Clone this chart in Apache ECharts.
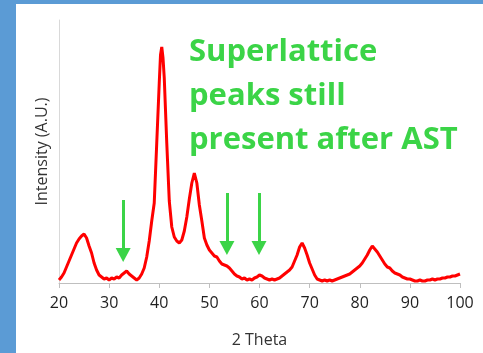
<!DOCTYPE html>
<html>
<head>
<meta charset="utf-8">
<script src="https://cdn.jsdelivr.net/npm/echarts@6/dist/echarts.min.js"></script>
<style>
  html, body { margin: 0; padding: 0; background: #fff; }
  #chart { width: 483px; height: 353px; }
</style>
</head>
<body>
<div id="chart"></div>
<script>
// 2 Theta positions (deg) and intensity
const twoTheta = [
  20, 20.5, 21, 21.5, 22, 22.5, 23, 23.5, 24, 24.5, 25, 25.5, 26, 26.5, 27, 27.5,
  28, 28.5, 29, 29.5, 30, 30.5, 31, 31.5, 32, 32.5, 33, 33.5, 34, 34.5, 35, 35.5,
  36, 36.5, 37, 37.5, 38, 38.5, 39, 39.5, 40, 40.25, 40.5, 40.75, 41, 41.5, 42, 42.5,
  43, 43.5, 44, 44.5, 45, 45.5, 46, 46.5, 47, 47.5, 48, 48.5, 49, 49.5, 50, 50.5,
  51, 51.5, 52, 52.5, 53, 53.5, 54, 54.5, 55, 55.5, 56, 56.5, 57, 57.5, 58, 58.5,
  59, 59.5, 60, 60.5, 61, 61.5, 62, 62.5, 63, 63.5, 64, 64.5, 65, 65.5, 66, 66.5,
  67, 67.5, 68, 68.5, 69, 69.5, 70, 70.5, 71, 71.5, 72, 72.5, 73, 73.5, 74, 74.5,
  75, 75.5, 76, 76.5, 77, 77.5, 78, 78.5, 79, 79.5, 80, 80.5, 81, 81.5, 82, 82.5,
  83, 83.5, 84, 84.5, 85, 85.5, 86, 86.5, 87, 87.5, 88, 88.5, 89, 89.5, 90, 90.5,
  91, 91.5, 92, 92.5, 93, 93.5, 94, 94.5, 95, 95.5, 96, 96.5, 97, 97.5, 98, 98.5,
  99, 99.5, 100
];
const intensity = [
  3, 6, 10, 16, 22, 28, 34, 40, 44, 47, 49, 45, 37, 30, 20, 13,
  8, 6, 4, 5, 3, 5, 4, 6, 5, 8, 10, 12, 9, 7, 5, 3,
  5, 9, 15, 26, 42, 62, 80, 140, 200, 228, 236, 225, 205, 140, 82, 56,
  46, 42, 40, 43, 52, 66, 84, 100, 110, 100, 78, 62, 45, 38, 33, 30,
  27, 26, 22, 19, 18, 17, 15, 12, 9, 7, 6, 4, 5, 3, 4, 3,
  5, 6, 8, 7, 5, 4, 3, 4, 3, 4, 5, 7, 9, 11, 13, 16,
  22, 28, 36, 40, 35, 28, 20, 14, 8, 4, 3, 2, 3, 2, 3, 2,
  3, 4, 5, 6, 7, 8, 9, 11, 13, 15, 17, 20, 24, 28, 33, 37,
  34, 31, 27, 23, 19, 16, 15, 12, 10, 9, 8, 6, 5, 4, 4, 3,
  2, 2, 3, 2, 2, 3, 3, 4, 3, 4, 4, 5, 5, 6, 6, 7,
  7, 8, 9
];
const xTicks = [20, 30, 40, 50, 60, 70, 80, 90, 100];
// superlattice peak markers: [2theta, arrow top, arrow end]
const arrowX = [32.8, 53.5, 59.9];
const arrowTop = [83, 90, 90];
const arrowEnd = [28, 35, 35];

const note = ['Superlattice', 'peaks still', 'present after AST'];

const green = '#3bd447';
const chart = echarts.init(document.getElementById('chart'));

const points = twoTheta.map((t, i) => [t, intensity[i]]);
const arrows = arrowX.map((x, i) => [
  { coord: [x, arrowTop[i]] },
  { coord: [x, arrowEnd[i]] }
]);

chart.setOption({
  animation: false,
  backgroundColor: '#ffffff',
  textStyle: { fontFamily: 'Open Sans' },
  grid: { left: 59, right: 23, top: 20, bottom: 70 },
  xAxis: {
    type: 'value',
    min: 20,
    max: 100,
    interval: 10,
    name: '2 Theta',
    nameLocation: 'middle',
    nameGap: 49,
    nameTextStyle: { fontSize: 16, color: '#333' },
    axisLine: { lineStyle: { color: '#bfbfbf', width: 1 } },
    axisTick: { show: true, length: 5, lineStyle: { color: '#bfbfbf' } },
    axisLabel: {
      fontSize: 16,
      color: '#1f1f1f',
      margin: 12,
      formatter: v => (xTicks.includes(v) ? String(v) : '')
    },
    splitLine: { show: false }
  },
  yAxis: {
    type: 'value',
    min: 0,
    max: 263,
    name: 'Intensity (A.U.)',
    nameLocation: 'middle',
    nameGap: 9,
    nameTextStyle: { fontSize: 16, color: '#333' },
    axisLine: { show: true, lineStyle: { color: '#d9d9d9', width: 1 } },
    axisTick: { show: false },
    axisLabel: { show: false },
    splitLine: { show: false }
  },
  graphic: [
    { type: 'rect', left: 0, top: 0, shape: { width: 16, height: 353 }, style: { fill: '#5b9bd5' } },
    { type: 'rect', left: 0, top: 0, shape: { width: 483, height: 4 }, style: { fill: '#5b9bd5' } },
    ...note.map((t, i) => ({
      type: 'text',
      x: 189,
      y: 52 + i * 44,
      style: {
        text: t,
        fill: green,
        fontSize: 31,
        fontWeight: 'bold',
        fontFamily: 'Open Sans',
        verticalAlign: 'middle',
        align: 'left'
      }
    }))
  ],
  series: [
    {
      type: 'line',
      data: points,
      showSymbol: false,
      smooth: false,
      lineStyle: { color: '#ff0000', width: 3 },
      markLine: {
        silent: true,
        symbol: ['none', 'triangle'],
        symbolSize: [15, 14],
        label: { show: false },
        lineStyle: { color: green, width: 3, type: 'solid' },
        emphasis: { disabled: true },
        data: arrows
      }
    }
  ]
});
</script>
</body>
</html>
